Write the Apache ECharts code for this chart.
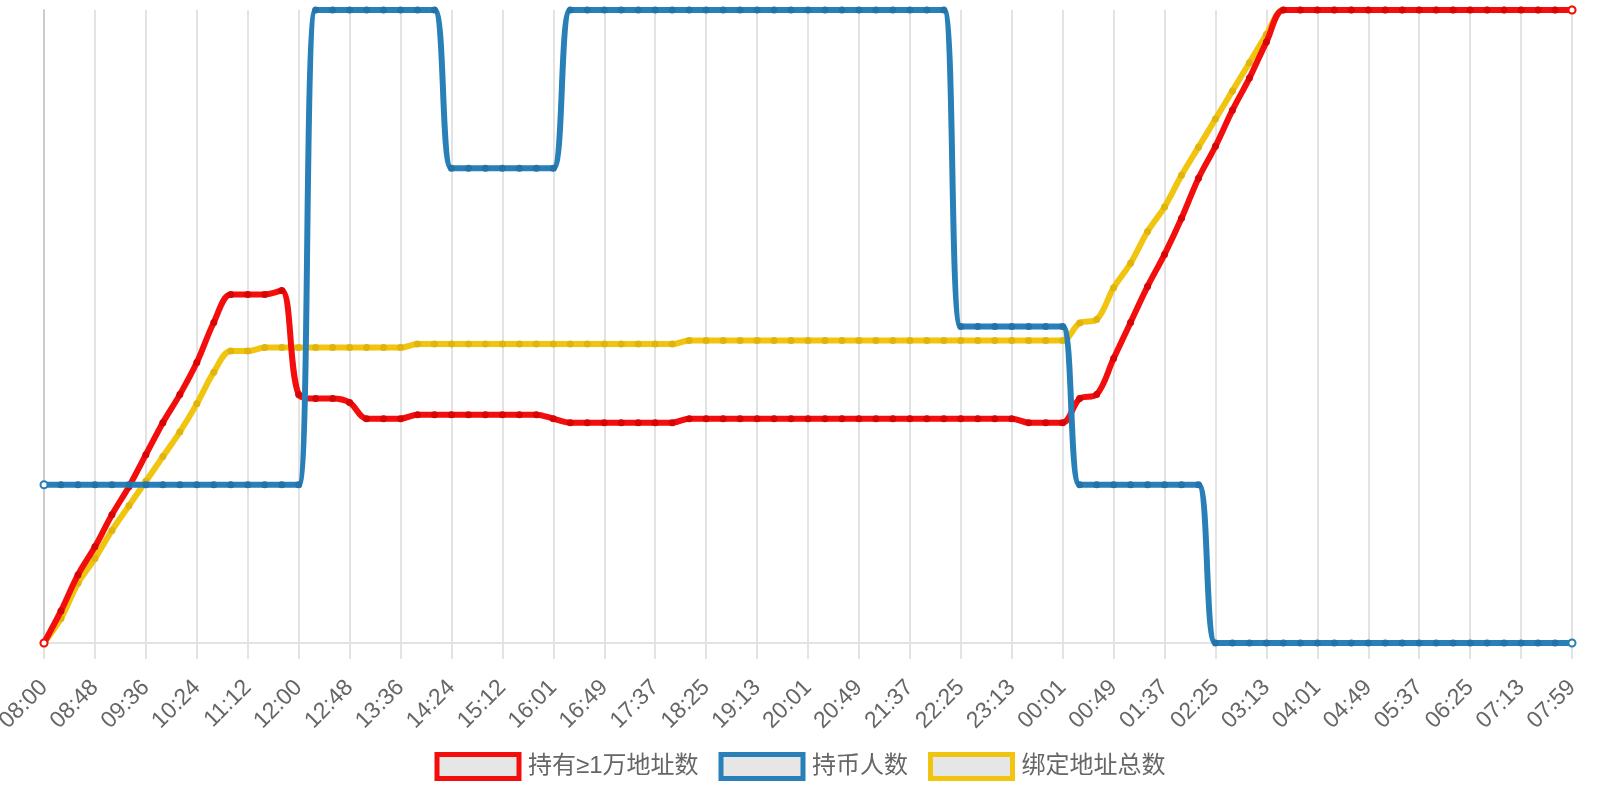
<!DOCTYPE html>
<html>
<head>
<meta charset="utf-8">
<script src="https://cdn.jsdelivr.net/npm/echarts@6/dist/echarts.min.js"></script>
<style>
html, body { margin: 0; padding: 0; background: #fff; }
#main { width: 1600px; height: 800px; }
</style>
</head>
<body>
<div id="main"></div>
<script>
var times = [
    '08:00', '08:16', '08:32', '08:48', '09:04', '09:20', '09:36', '09:52', '10:08',
    '10:24', '10:40', '10:56', '11:12', '11:28', '11:44', '12:00', '12:16', '12:32',
    '12:48', '13:04', '13:20', '13:36', '13:52', '14:08', '14:24', '14:40', '14:56',
    '15:12', '15:28', '15:44', '16:01', '16:17', '16:33', '16:49', '17:05', '17:21',
    '17:37', '17:53', '18:09', '18:25', '18:41', '18:57', '19:13', '19:29', '19:45',
    '20:01', '20:17', '20:33', '20:49', '21:05', '21:21', '21:37', '21:53', '22:09',
    '22:25', '22:41', '22:57', '23:13', '23:29', '23:45', '00:01', '00:17', '00:33',
    '00:49', '01:05', '01:21', '01:37', '01:53', '02:09', '02:25', '02:41', '02:57',
    '03:13', '03:29', '03:45', '04:01', '04:17', '04:33', '04:49', '05:05', '05:21',
    '05:37', '05:53', '06:09', '06:25', '06:41', '06:57', '07:13', '07:29', '07:44',
    '07:59'
];

// 持有≥1万地址数
var bigHolders = [
    1200, 1208, 1217, 1224, 1232, 1239, 1247, 1255, 1262, 1270, 1280, 1287, 1287, 1287, 1288,
    1262, 1261, 1261, 1260,
    1256, 1256, 1256,
    1257, 1257, 1257, 1257, 1257, 1257, 1257, 1257,
    1256,
    1255, 1255, 1255, 1255, 1255, 1255, 1255,
    1256, 1256, 1256, 1256, 1256, 1256, 1256, 1256, 1256, 1256,
    1256, 1256, 1256, 1256, 1256, 1256, 1256, 1256, 1256, 1256,
    1255, 1255, 1255,
    1261, 1262, 1271, 1280, 1289, 1297, 1306, 1316, 1324, 1333, 1341, 1350,
    1358, 1358, 1358, 1358, 1358, 1358, 1358, 1358, 1358,
    1358, 1358, 1358, 1358, 1358, 1358, 1358, 1358, 1358
];

// 持币人数
var holders = [
    181, 181, 181, 181, 181, 181, 181, 181, 181, 181, 181, 181, 181, 181, 181, 181,
    184, 184, 184, 184, 184, 184, 184, 184,
    183, 183, 183, 183, 183, 183, 183,
    184, 184, 184, 184, 184, 184, 184, 184, 184, 184, 184, 184,
    184, 184, 184, 184, 184, 184, 184, 184, 184, 184, 184,
    182, 182, 182, 182, 182, 182, 182,
    181, 181, 181, 181, 181, 181, 181, 181,
    180, 180, 180, 180, 180, 180, 180, 180, 180, 180, 180,
    180, 180, 180, 180, 180, 180, 180, 180, 180, 180, 180
];

// 绑定地址总数
var boundTotal = [
    2400, 2407, 2417, 2424, 2432, 2439, 2446, 2453, 2460, 2468, 2477, 2483, 2483,
    2484, 2484, 2484, 2484, 2484, 2484, 2484, 2484, 2484,
    2485, 2485, 2485, 2485, 2485, 2485, 2485, 2485,
    2485, 2485, 2485, 2485, 2485, 2485, 2485, 2485,
    2486, 2486, 2486, 2486, 2486, 2486, 2486, 2486, 2486, 2486, 2486, 2486,
    2486, 2486, 2486, 2486, 2486, 2486, 2486, 2486, 2486, 2486, 2486,
    2491, 2492, 2501, 2508, 2517, 2524, 2533, 2541, 2549, 2557, 2565, 2573,
    2580, 2580, 2580, 2580, 2580, 2580, 2580, 2580, 2580,
    2580, 2580, 2580, 2580, 2580, 2580, 2580, 2580, 2580
];

var names = ['持有≥1万地址数', '持币人数', '绑定地址总数'];
var colors = ['#f30d0d', '#2980b9', '#f1c40f'];
var dotColors = ['#d60606', '#2472a8', '#dfb40c'];

// first and last points are drawn hollow
function ends(arr, color) {
    return arr.map(function (v, i) {
        if (i === 0 || i === arr.length - 1) {
            return { value: v, symbol: 'emptyCircle', itemStyle: { color: color, borderWidth: 2 } };
        }
        return v;
    });
}

function lineSeries(k, data, z) {
    return {
        name: names[k],
        type: 'line',
        yAxisIndex: k,
        data: ends(data, colors[k]),
        smooth: 0.35,
        symbol: 'circle',
        symbolSize: 7,
        showAllSymbol: true,
        lineStyle: { color: colors[k], width: 6 },
        itemStyle: { color: dotColors[k] },
        z: z
    };
}

var hiddenY = {
    type: 'value', show: false, min: 'dataMin', max: 'dataMax',
    splitLine: { show: false }
};

var myChart = echarts.init(document.getElementById('main'));
var option = {
    animation: false,
    backgroundColor: '#fff',
    textStyle: { fontFamily: 'Liberation Sans, Arial, Noto Sans CJK SC, sans-serif' },
    grid: { left: 44, right: 28, top: 10, bottom: 157, containLabel: false, outerBoundsMode: 'none' },
    legend: {
        top: 747,
        left: 'center',
        icon: 'rect',
        itemWidth: 82,
        itemHeight: 24,
        itemGap: 20,
        textStyle: {
            fontSize: 24, color: '#666', padding: [0, 0, 0, 4],
            fontFamily: 'Liberation Sans, Noto Sans CJK SC, sans-serif'
        },
        data: names.map(function (n, k) {
            return { name: n, itemStyle: { color: '#e6e6e6', borderColor: colors[k], borderWidth: 5 } };
        })
    },
    xAxis: {
        type: 'category',
        data: times,
        boundaryGap: false,
        axisLine: { lineStyle: { color: '#e3e3e3', width: 2 } },
        axisTick: { show: true, interval: 2, length: 16, lineStyle: { color: '#e3e3e3', width: 2 } },
        splitLine: { show: true, interval: 2, lineStyle: { color: '#e3e3e3', width: 2 } },
        axisLabel: { interval: 2, rotate: 45, fontSize: 23, color: '#666', margin: 41 }
    },
    yAxis: [
        {
            type: 'value', min: 'dataMin', max: 'dataMax',
            axisLine: { show: true, lineStyle: { color: '#cccccc', width: 2 } },
            axisTick: { show: false },
            axisLabel: { show: false },
            splitLine: { show: false }
        },
        hiddenY,
        hiddenY
    ],
    series: [
        lineSeries(0, bigHolders, 3),
        lineSeries(1, holders, 4),
        lineSeries(2, boundTotal, 2)
    ]
};
myChart.setOption(option);
</script>
</body>
</html>
